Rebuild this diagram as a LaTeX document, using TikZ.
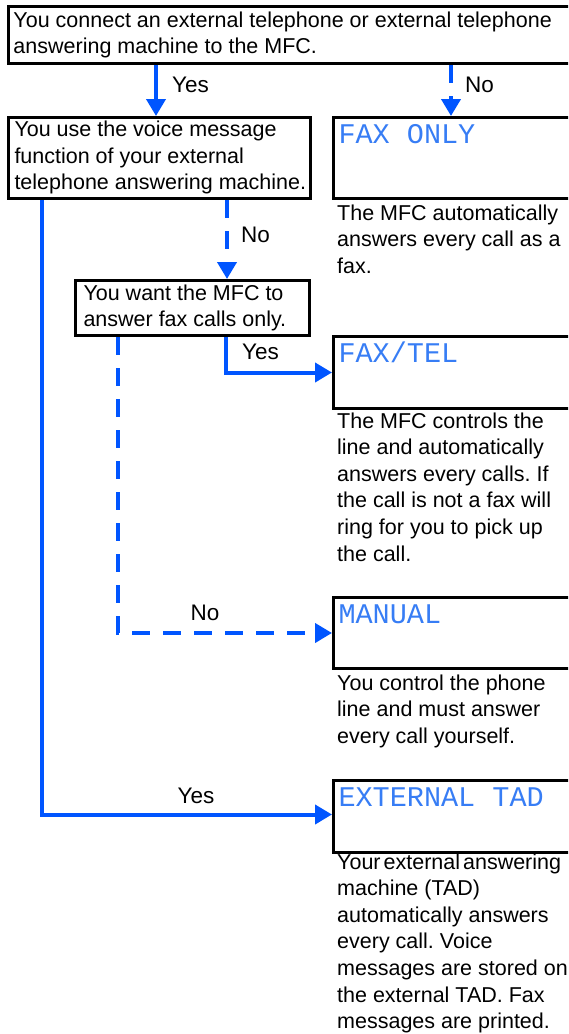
\documentclass[tikz,border=0pt]{standalone}
\usepackage{fontspec}
\setmainfont{Liberation Sans}
\newfontfamily\lcdfont{Liberation Mono}
\usetikzlibrary{arrows.meta}
\definecolor{lineblue}{RGB}{0,85,255}
\definecolor{lcdblue}{RGB}{55,125,245}
\newcommand{\txtlines}[1]{\begin{tabular}[t]{@{}l@{}}#1\end{tabular}}
\frenchspacing
\begin{document}
\begin{tikzpicture}[x=1pt,y=-1pt,
  font=\fontsize{21.5}{26.6}\selectfont,
  qbox/.style={draw=black, line width=3pt, inner sep=0pt, anchor=north west},
  lcdbox/.style={draw=black, line width=3pt, inner sep=0pt, anchor=north west,
    text height=26pt, text=lcdblue, font=\lcdfont\fontsize{28.5}{29}\selectfont},
  desc/.style={inner sep=0pt, anchor=base west},
  lbl/.style={inner sep=0pt, font=\fontsize{22.5}{27}\selectfont},
  flow/.style={draw=lineblue, line width=4pt, -{Triangle[length=17pt,width=19pt]}},
  flowdash/.style={flow, dash pattern=on 18pt off 13pt}]
\useasboundingbox (0,0) rectangle (568,1034);
\clip (0,0) rectangle (568,1034);
\fill[white] (0,0) rectangle (568,1034);

% question boxes
\node[qbox, minimum width=580pt, minimum height=57pt] (top) at (7,5)
  {\makebox[580pt][l]{\hspace{5pt}\txtlines{You connect an external telephone or external telephone\\answering machine to the MFC.}}};
\node[qbox, minimum width=302pt, minimum height=81pt] (q2) at (7,116)
  {\makebox[302pt][l]{\hspace{6pt}\txtlines{You use the voice message\\function of your external\\telephone answering machine.}}};
\node[qbox, minimum width=234pt, minimum height=55pt] (q3) at (74,279)
  {\makebox[234pt][l]{\hspace{8pt}\txtlines{You want the MFC to\\answer fax calls only.}}};

% mode boxes
\node[lcdbox, text depth=55pt] (fax) at (332,116) {\makebox[260pt][l]{\hspace{5pt}FAX ONLY}};
\node[lcdbox, text depth=46pt] (faxtel) at (332,335) {\makebox[260pt][l]{\hspace{5pt}FAX/TEL}};
\node[lcdbox, text depth=45pt] (manual) at (332,596) {\makebox[260pt][l]{\hspace{5pt}MANUAL}};
\node[lcdbox, text depth=46pt] (tad) at (332,779) {\makebox[260pt][l]{\hspace{5pt}EXTERNAL TAD}};

% descriptions
\node[desc] (d1) at (337,220) {\txtlines{The MFC automatically\\answers every call as a\\fax.}};
\node[desc] (d2) at (337,428) {\txtlines{The MFC controls the\\line and automatically\\answers every calls. If\\the call is not a fax will\\ring for you to pick up\\the call.}};
\node[desc] (d3) at (337,690) {\txtlines{You control the phone\\line and must answer\\every call yourself.}};
\node[desc] (d4) at (337,869) {\txtlines{Your\hspace{3pt}external\hspace{3pt}answering\\machine (TAD)\\automatically answers\\every call. Voice\\messages are stored on\\the external TAD. Fax\\messages are printed.}};

% connector coordinates
\coordinate (a1) at ([xshift=149pt]q2.north west);
\coordinate (a2) at ([xshift=119pt]fax.north west);
\coordinate (a3) at ([xshift=153pt]q3.north west);
\coordinate (a4) at ([xshift=35pt]q2.south west);
\coordinate (a5) at ([xshift=152pt]q3.south west);
\coordinate (a6) at ([xshift=44pt]q3.south west);
\coordinate (t1) at ([yshift=2pt]tad.west);

\draw[flow] (a1 |- top.south) -- (a1);
\draw[flowdash] (a2 |- top.south) -- (a2);
\draw[flowdash] (a3 |- q2.south) -- (a3);
\draw[flow] (a4) |- (t1);
\draw[flow] (a5) |- (faxtel.west);
\draw[flowdash] (a6) |- (manual.west);

% labels
\node[lbl, anchor=west] (l1) at (172,85) {Yes};
\node[lbl, anchor=west] (l2) at (465,85) {No};
\node[lbl, anchor=west] (l3) at (241,235) {No};
\node[lbl, anchor=west] (l4) at (242,352) {Yes};
\node[lbl] (l5) at (205,613) {No};
\node[lbl] (l6) at (196,796) {Yes};
\end{tikzpicture}
\end{document}
